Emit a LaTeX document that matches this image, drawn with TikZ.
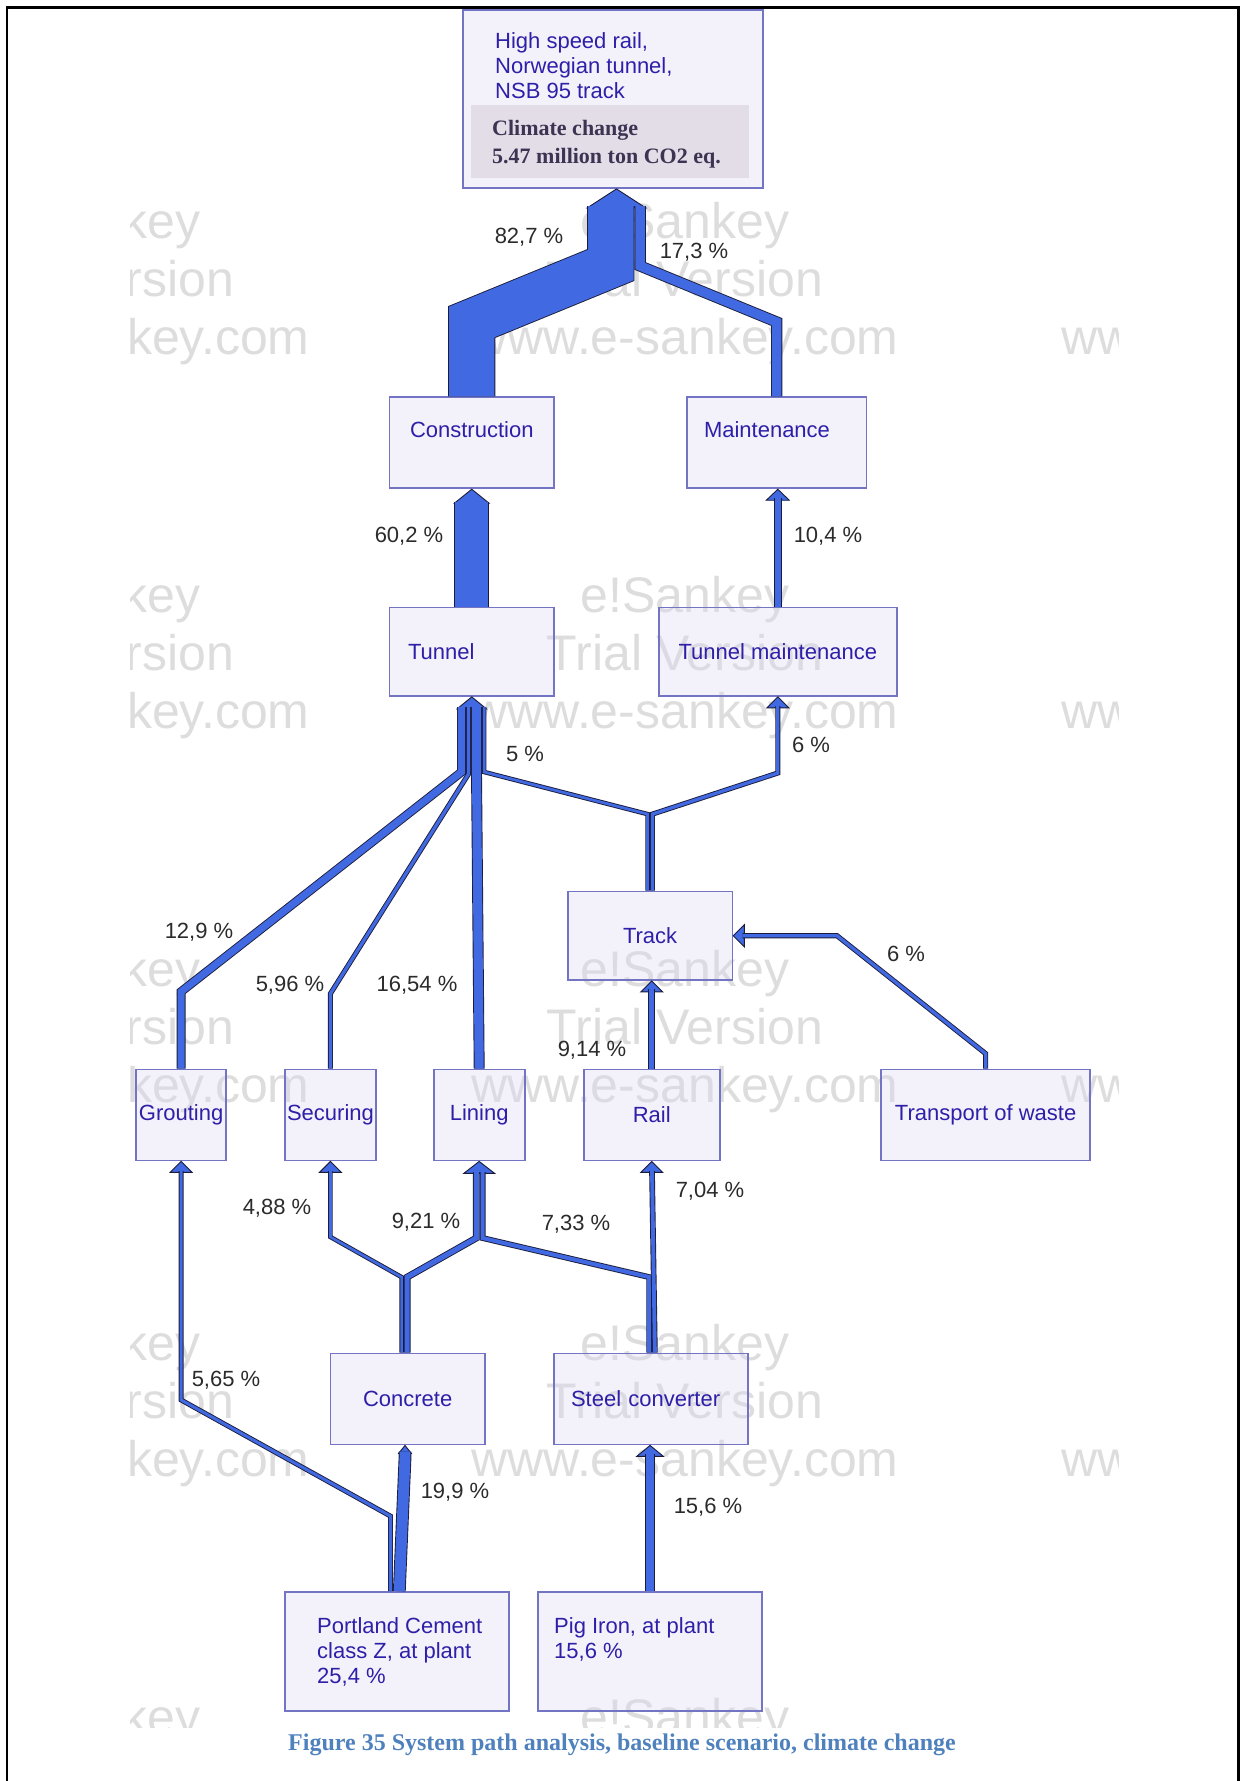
\documentclass[tikz,border=0pt]{standalone}
\usepackage{fontspec}
\setmainfont{Liberation Sans}
\newfontfamily\serifbold{Liberation Serif}
\usetikzlibrary{calc}

\definecolor{flowblue}{HTML}{4169E1}
\definecolor{flowline}{HTML}{1C1C3A}
\definecolor{boxtint}{HTML}{DCD8F0}
\definecolor{boxline}{HTML}{7474C4}
\definecolor{boxtext}{HTML}{2D1FA8}
\definecolor{pcttext}{HTML}{2B2B2B}
\definecolor{climfill}{HTML}{E3DDE8}
\definecolor{climtext}{HTML}{3D3352}
\definecolor{captext}{HTML}{4F81BD}
\definecolor{wmgray}{HTML}{DDDDDD}

\newcommand\boxfont{\fontsize{22}{25}\selectfont}
\newcommand\climfont{\serifbold\bfseries\fontsize{22}{28}\selectfont}
\newcommand\capfont{\serifbold\bfseries\fontsize{24}{28}\selectfont}
\newcommand\wmfont{\fontsize{50}{58}\selectfont}

\tikzset{
  box/.style={draw=boxline, fill=boxtint, fill opacity=0.35, text opacity=1, line width=1.8pt, inner sep=0pt, text=boxtext, font=\boxfont},
  boxtxt/.style={anchor=north west, inner sep=0pt, align=left, text=boxtext, font=\boxfont},
  pct/.style={anchor=base, inner sep=0pt, text=pcttext, font=\boxfont},
  flow/.style={draw=flowline, line width=0.9pt, double=flowblue, double distance=0.55pt*#1, line join=miter},
  flowhead/.style={fill=flowblue, draw=flowline, line width=0.9pt, line join=miter},
  wm/.style={inner sep=0pt, align=center, text=wmgray, font=\wmfont},
}

% arrow heads: tip, half width, length
\newcommand\headup[3]{\draw[flowhead] ($#1+(-#2,#3)$) -- #1 -- ($#1+(#2,#3)$) -- cycle;}
\newcommand\headleft[3]{\draw[flowhead] ($#1+(#3,-#2)$) -- #1 -- ($#1+(#3,#2)$) -- cycle;}

\begin{document}
\begin{tikzpicture}[x=1pt, y=-1pt]
\useasboundingbox (0,0) rectangle (1240,1781);

% frame
\draw[line width=2.5pt] (7,1781) -- (7,7.5) -- (1238.5,7.5) -- (1238.5,1781);

% watermark
\begin{scope}
\clip (130,0) rectangle (1118,1727);
\foreach \i in {0,...,4}
  \foreach \x [count=\j] in {96,685,1275}
    \node[wm] (wm-\i-\j) at (\x,284+374*\i) {e!Sankey\\Trial Version\\www.e-sankey.com};
\end{scope}

% result box
\node[box, minimum width=300pt, minimum height=178pt] (hsr) at (613,99) {};
\node[fill=climfill, inner sep=0pt, minimum width=278pt, minimum height=73pt] (clim) at (610,141.5) {};
\node[boxtxt] (hsr-t) at (495,32.5) {High speed rail,\\Norwegian tunnel,\\NSB 95 track};
\node[boxtxt, text=climtext, font=\climfont] (clim-t) at (492,120.5) {Climate change\\5.47 million ton CO2 eq.};

% processes
\node[box, minimum width=164.5pt, minimum height=91pt, text depth=27pt] (constr) at (471.75,442.85) {Construction};
\node[box, minimum width=179.4pt, minimum height=91pt, text depth=27pt, text width=145.4pt, inner xsep=17pt, align=left] (maint) at (776.7,442.85) {Maintenance};
\node[box, minimum width=164.5pt, minimum height=88.5pt, text width=127.5pt, inner xsep=18.5pt, align=left] (tunnel) at (471.75,651.75) {Tunnel};
\node[box, minimum width=238.4pt, minimum height=88.5pt] (tunm) at (777.8,651.75) {Tunnel maintenance};
\node[box, minimum width=164.6pt, minimum height=88.6pt] (track) at (650.1,935.7) {Track};

\foreach \nm/\x/\w/\txt in {grout/181.15/89.7/Grouting, secur/330.45/90.9/Securing, lining/479.2/90.8/Lining, rail/651.75/136.3/Rail, waste/985.65/208.9/Transport of waste}
  \node[box, minimum width=\w pt, minimum height=91pt] (\nm) at (\x,1115) {\txt};

\node[box, minimum width=154.5pt, minimum height=91pt] (concrete) at (407.65,1399) {Concrete};
\node[box, minimum width=194pt, minimum height=91pt, text width=160pt, inner xsep=17pt, align=left] (steel) at (651,1399) {Steel converter};
\node[box, minimum width=223.7pt, minimum height=119.2pt] (port) at (396.85,1651.6) {};
\node[box, minimum width=223.7pt, minimum height=119.2pt] (pig) at (650.05,1651.6) {};
\node[boxtxt] (port-t) at (317,1617) {Portland Cement\\class Z, at plant\\25,4 \%};
\node[boxtxt] (pig-t) at (554,1617) {Pig Iron, at plant\\15,6 \%};

% heads
\headup{([xshift=3.5pt]hsr.south)}{29.3}{19}
\headup{(constr.south)}{17.45}{14}
\headup{(tunm.north |- maint.south)}{11.5}{11}
\headup{(tunnel.south)}{14.7}{12}
\headup{(tunm.south)}{11}{11}
\headup{(rail.north |- track.south)}{11}{11}
\headleft{(track.east)}{11}{11}
\headup{(grout.south)}{11}{11}
\headup{(secur.south)}{11}{11}
\headup{(lining.south)}{15.5}{12}
\headup{(rail.south)}{11}{11}
\headup{([xshift=-2.65pt]concrete.south)}{6.4}{8}
\headup{(pig.north |- steel.south)}{13.4}{11}

% flows
\draw[flow=82.7] (constr.north) -- (471.75,322) -- (610.85,265) -- (610.85,206);
\draw[flow=17.3] (maint.north) -- (776.7,322) -- (640.15,266) -- (640.15,206);
\draw[flow=60.2] (tunnel.north) -- (471.75,501.5);
\draw[flow=10.4] (tunm.north) -- ++(0,-109);
\draw[flow=12.9] (grout.north) -- ++(0,-77) -- (461.5,772) -- (461.5,707);
\draw[flow=5.96] (secur.north) -- ++(0,-75) -- (468.5,774) -- (468.5,707);
\draw[flow=16.54] (lining.north) -- (476.5,772) -- (476.5,707);
\draw[flow=5] ([xshift=-2.55pt]track.north) -- ++(0,-76.4) -- (484.2,772) -- (484.2,707);
\draw[flow=6] ([xshift=2.3pt]track.north) -- ++(0,-76.4) -- (777.8,773) -- (777.8,706);
\draw[flow=9.14] (rail.north) -- ++(0,-80);
\draw[flow=6] (waste.north) -- ++(0,-15) -- (837,935.7) -- (742.5,935.7);
\draw[flow=5.65] ([xshift=-6.35pt]port.north) -- ++(0,-75) -- (181.15,1400) -- (181.15,1171);
\draw[flow=19.9] ([xshift=2.45pt]port.north) -- (405,1458) -- (405,1451.5);
\draw[flow=4.88] ([xshift=-6.05pt]concrete.north) -- ++(0,-75.5) -- (330.45,1237) -- (330.45,1171);
\draw[flow=9.21] ([xshift=-0.45pt]concrete.north) -- ++(0,-75.5) -- (476.3,1238) -- (476.3,1172);
\draw[flow=7.33] ([xshift=-1.8pt]steel.north) -- ++(0,-75.5) -- (482.6,1238) -- (482.6,1172);
\draw[flow=7.04] ([xshift=3.9pt]steel.north) -- (652,1171);
\draw[flow=15.6] (pig.north) -- ++(0,-137);

% percentages
\foreach \nm/\x/\y/\txt in {
p827/529/243/{82,7 \%},
p173/694/258/{17,3 \%},
p602/409/542/{60,2 \%},
p104/828/542/{10,4 \%},
p5/525/761/{5 \%},
p6a/811/752/{6 \%},
p129/199/938/{12,9 \%},
p596/290/991/{5,96 \%},
p1654/417/991/{16,54 \%},
p6b/906/961/{6 \%},
p914/592/1056/{9,14 \%},
p488/277/1214/{4,88 \%},
p921/426/1228/{9,21 \%},
p733/576/1230/{7,33 \%},
p704/710/1197/{7,04 \%},
p565/226/1386/{5,65 \%},
p199/455/1498/{19,9 \%},
p156/708/1513/{15,6 \%}
}
{
\node[pct] (\nm) at (\x,\y) {\txt};
}

% caption
\node[anchor=base, inner sep=0pt, text=captext, font=\capfont] (caption) at (622,1750) {Figure 35 System path analysis, baseline scenario, climate change};

\end{tikzpicture}
\end{document}
